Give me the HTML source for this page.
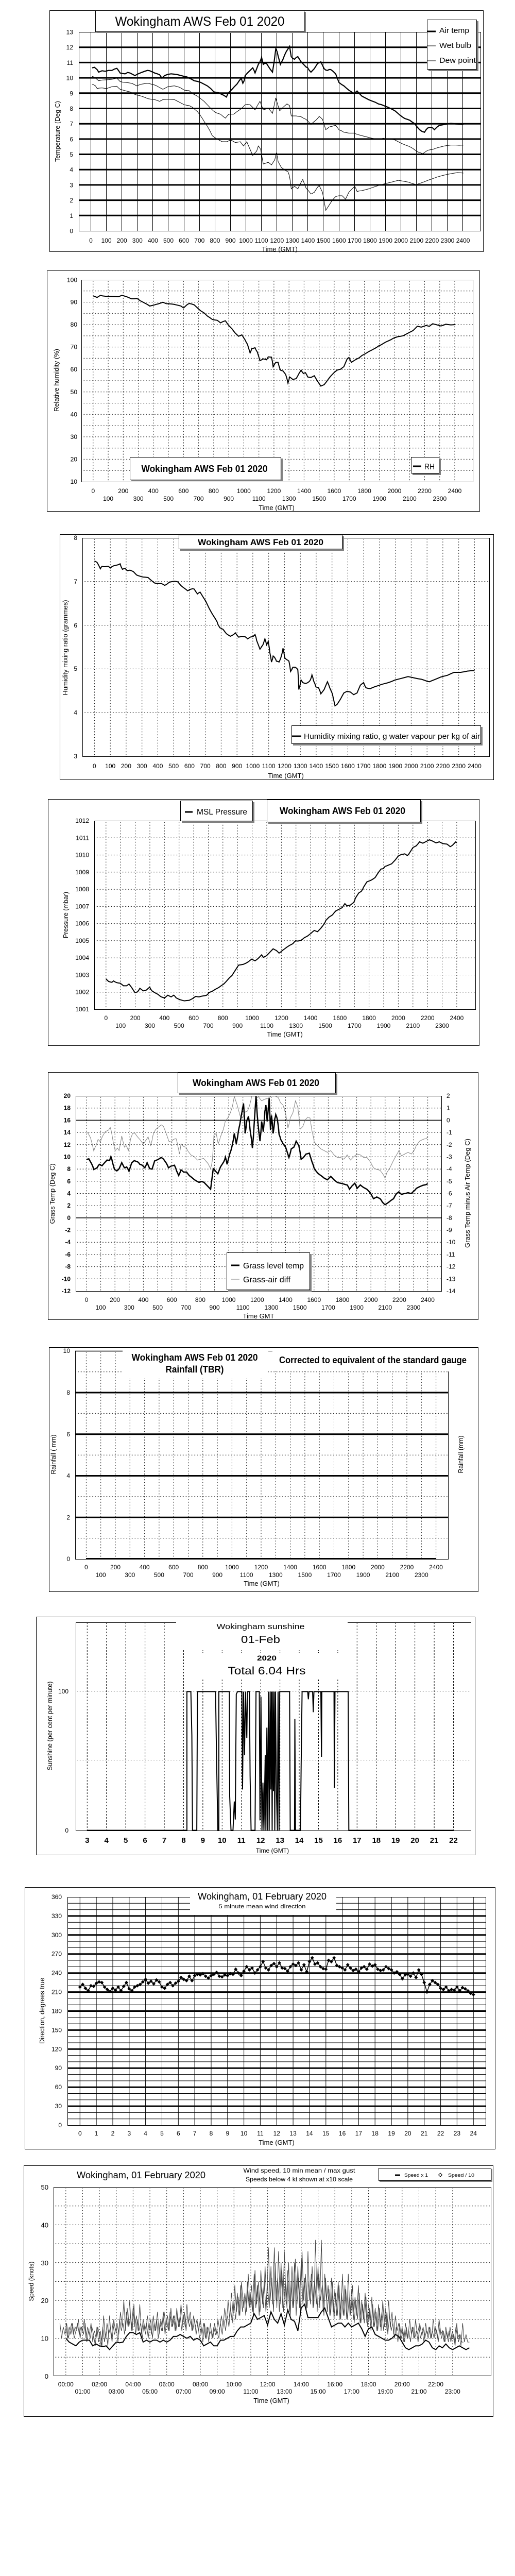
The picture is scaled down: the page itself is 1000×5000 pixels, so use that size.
<!DOCTYPE html>
<html><head><meta charset="utf-8"><title>Wokingham AWS Feb 01 2020</title>
<style>
html,body{margin:0;padding:0;background:#fff;}
svg{display:block;}
svg text{font-family:"Liberation Sans",Arial,sans-serif;fill:#000;}
.tk{font-size:12px;}
.ax{font-size:13px;}
.bt{font-weight:bold;}
</style></head><body>
<svg xmlns="http://www.w3.org/2000/svg" xmlns:xlink="http://www.w3.org/1999/xlink" width="1000" height="5000" viewBox="0 0 1000 5000">
<rect x="0" y="0" width="1000" height="5000" fill="#fff"/>
<defs>
<clipPath id="c5"><rect x="147" y="2127" width="711" height="379"/></clipPath>
<clipPath id="c9"><rect x="104" y="4245" width="850" height="367"/></clipPath>
<marker id="dm" markerUnits="userSpaceOnUse" markerWidth="2" markerHeight="7" viewBox="-1 -3.5 2 7" refX="0" refY="0" overflow="visible"><path d="M0,-2.85L0.66,0L0,2.85L-0.66,0Z" fill="#000"/></marker>
</defs>

<!-- ================= PANEL 1 ================= -->
<g>
<rect x="96.5" y="20.5" width="842" height="468" fill="none" stroke="#000"/>
<path stroke="#000" stroke-width="1" fill="none" d="M176.5 62V448M206.5 62V448M236.5 62V448M266.5 62V448M296.5 62V448M326.5 62V448M357.5 62V448M387.5 62V448M417.5 62V448M447.5 62V448M477.5 62V448M507.5 62V448M537.5 62V448M567.5 62V448M597.5 62V448M627.5 62V448M658.5 62V448M688.5 62V448M718.5 62V448M748.5 62V448M778.5 62V448M808.5 62V448M838.5 62V448M868.5 62V448M898.5 62V448"/>
<path stroke="#000" stroke-width="3" fill="none" d="M153 418.3H934M153 388.6H934M153 358.9H934M153 329.2H934M153 299.5H934M153 269.9H934M153 240.2H934M153 210.5H934M153 180.8H934M153 151.1H934M153 121.4H934M153 91.7H934"/>
<rect x="153.5" y="62.5" width="780" height="386" fill="none" stroke="#000"/>
<g class="tk" text-anchor="end">
<text x="142" y="452.5">0</text><text x="142" y="422.8">1</text><text x="142" y="393.1">2</text><text x="142" y="363.4">3</text><text x="142" y="333.7">4</text><text x="142" y="304">5</text><text x="142" y="274.4">6</text><text x="142" y="244.7">7</text><text x="142" y="215">8</text><text x="142" y="185.3">9</text><text x="142" y="155.6">10</text><text x="142" y="125.9">11</text><text x="142" y="96.2">12</text><text x="142" y="66.5">13</text>
</g>
<g class="tk" text-anchor="middle">
<text x="176.5" y="471">0</text><text x="206.6" y="471">100</text><text x="236.7" y="471">200</text><text x="266.8" y="471">300</text><text x="296.9" y="471">400</text><text x="327" y="471">500</text><text x="357.2" y="471">600</text><text x="387.3" y="471">700</text><text x="417.4" y="471">800</text><text x="447.5" y="471">900</text><text x="477.6" y="471">1000</text><text x="507.7" y="471">1100</text><text x="537.8" y="471">1200</text><text x="567.9" y="471">1300</text><text x="598" y="471">1400</text><text x="628.2" y="471">1500</text><text x="658.3" y="471">1600</text><text x="688.4" y="471">1700</text><text x="718.5" y="471">1800</text><text x="748.6" y="471">1900</text><text x="778.7" y="471">2000</text><text x="808.8" y="471">2100</text><text x="838.9" y="471">2200</text><text x="869" y="471">2300</text><text x="899.1" y="471">2400</text>
</g>
<text class="ax" x="543" y="488" text-anchor="middle">Time (GMT)</text>
<text class="ax" transform="translate(116,255) rotate(-90)" text-anchor="middle" textLength="118" lengthAdjust="spacingAndGlyphs">Temperature (Deg C)</text>
<g transform="scale(0.63898,0.33333)" fill="none" stroke="#000">
<polyline vector-effect="non-scaling-stroke" stroke-width="2.2" points="280,395 287,392 295,405 300,420 310,412 320,415 330,410 340,410 348,402 355,398 360,410 365,425 372,428 380,430 388,422 395,425 402,432 410,440 420,430 430,422 440,415 448,410 455,412 462,418 470,425 478,430 485,435 492,455 500,440 510,433 520,430 530,432 540,435 550,440 560,445 568,448 575,455 583,462 590,470 600,474 610,480 620,490 630,500 640,515 650,535 658,538 665,540 672,548 680,555 688,565 692,548 695,540 700,530 705,520 712,505 720,490 727,470 733,455 738,485 742,470 745,440 752,425 760,410 768,395 772,410 775,425 780,400 785,375 790,360 795,335 800,375 805,368 810,370 815,385 820,400 828,420 833,360 838,285 842,300 845,325 852,375 856,360 860,345 865,320 870,300 875,285 880,270 885,330 890,340 895,345 900,335 905,330 910,345 915,360 920,370 925,380 930,390 935,395 940,410 945,420 950,410 955,400 960,385 965,370 970,365 975,360 980,380 985,400 990,408 995,410 1000,405 1005,405 1012,415 1020,430 1025,455 1030,480 1038,492 1045,500 1052,512 1060,525 1068,535 1075,545 1080,538 1085,530 1092,545 1100,560 1110,570 1120,580 1130,588 1140,595 1150,605 1160,610 1170,618 1180,625 1190,635 1200,645 1208,658 1215,670 1222,680 1230,690 1238,695 1245,700 1252,710 1260,720 1267,738 1275,755 1282,765 1290,770 1295,755 1300,745 1308,742 1315,745 1320,755 1328,740 1335,730 1342,728 1350,725 1360,722 1370,718 1378,720 1385,722 1395,723 1408,725"/>
<polyline vector-effect="non-scaling-stroke" stroke-width="1" points="280,445 285,448 290,455 300,470 310,466 320,465 330,464 340,462 348,458 355,455 360,465 365,475 372,478 380,480 390,482 400,485 408,492 415,500 422,495 430,490 440,487 450,485 460,490 470,495 478,502 485,510 495,520 503,512 510,505 520,502 530,500 538,504 545,508 552,515 560,525 568,527 575,528 580,537 585,545 592,552 600,560 610,575 620,590 630,610 640,630 648,645 655,655 662,660 670,665 678,678 685,688 690,676 695,665 702,665 710,665 715,658 720,650 728,640 735,630 740,620 745,610 752,608 760,610 768,625 775,640 782,615 790,590 795,615 800,640 808,635 815,630 822,645 828,660 833,615 838,570 844,610 850,645 855,635 860,625 866,615 872,605 876,610 880,615 883,650 885,675 892,675 900,675 908,678 915,680 922,688 930,695 938,710 945,725 952,712 960,700 965,690 970,678 975,686 980,695 985,725 990,755 995,748 1000,740 1005,737 1010,735 1015,732 1020,730 1025,742 1030,755 1038,762 1045,770 1052,772 1060,775 1068,775 1075,775 1082,780 1090,785 1100,790 1110,795 1120,800 1130,805 1140,808 1150,810 1158,808 1165,805 1172,808 1180,810 1190,812 1200,815 1210,825 1220,835 1230,843 1240,850 1248,857 1255,865 1262,875 1270,885 1278,890 1285,895 1292,885 1300,875 1308,872 1315,870 1322,865 1330,860 1340,855 1350,850 1360,847 1370,845 1385,845 1395,846 1408,845"/>
<polyline vector-effect="non-scaling-stroke" stroke-width="1" points="280,490 285,494 290,500 295,515 302,513 310,512 318,514 325,515 332,510 340,505 348,503 355,502 360,512 365,520 372,524 380,528 388,532 395,535 402,542 410,550 420,555 430,560 440,567 450,575 460,578 470,580 478,585 485,590 490,585 495,580 502,579 510,578 520,579 530,580 538,588 545,595 552,602 560,610 568,613 575,615 580,620 585,625 592,637 600,650 608,670 615,690 622,712 630,735 638,762 645,790 652,800 660,810 668,818 675,825 682,825 690,825 695,820 700,815 708,822 715,830 722,828 730,825 735,838 740,850 745,838 750,825 755,848 760,870 764,888 768,905 774,892 780,880 785,850 789,860 792,870 796,912 800,955 808,950 815,945 820,952 825,960 830,945 835,930 840,890 843,915 845,940 850,958 855,975 860,982 865,990 870,995 875,1000 878,1015 880,1030 883,1065 885,1100 890,1092 895,1085 900,1092 905,1100 912,1072 920,1045 925,1070 930,1095 938,1112 945,1130 950,1125 955,1120 960,1105 965,1090 970,1080 975,1100 980,1120 985,1172 990,1225 995,1210 1000,1195 1005,1180 1010,1165 1015,1155 1020,1145 1025,1142 1030,1140 1035,1140 1040,1140 1045,1150 1050,1160 1055,1140 1060,1120 1065,1110 1070,1100 1074,1092 1078,1085 1082,1100 1085,1115 1092,1112 1100,1110 1110,1105 1120,1100 1135,1090 1150,1080 1165,1072 1180,1065 1195,1058 1210,1050 1225,1055 1240,1060 1252,1068 1265,1075 1272,1070 1280,1065 1290,1058 1300,1050 1315,1040 1330,1030 1345,1022 1360,1015 1375,1010 1390,1005 1400,1006 1408,1008"/>
</g>
<rect x="188" y="23" width="406" height="41" fill="#808080"/>
<rect x="185.5" y="20.5" width="405" height="41" fill="#fff" stroke="#000"/>
<text x="388" y="50" font-size="25" text-anchor="middle" textLength="329" lengthAdjust="spacingAndGlyphs">Wokingham AWS Feb 01 2020</text>
<rect x="832" y="41" width="97" height="97" fill="#808080"/>
<rect x="829.5" y="38.5" width="96" height="96" fill="#fff" stroke="#000"/>
<path d="M830 61H846" stroke="#000" stroke-width="3"/>
<path d="M830 89H846M830 118H846" stroke="#000" stroke-width="1"/>
<text x="853" y="64" font-size="15" textLength="58" lengthAdjust="spacingAndGlyphs">Air temp</text>
<text x="853" y="93" font-size="15" textLength="62" lengthAdjust="spacingAndGlyphs">Wet bulb</text>
<text x="853" y="122" font-size="15" textLength="71" lengthAdjust="spacingAndGlyphs">Dew point</text>
</g>

<!-- ================= PANEL 2 ================= -->
<g>
<rect x="91.5" y="525.5" width="840" height="467" fill="none" stroke="#000"/>
<path stroke="#000" stroke-width="1" stroke-dasharray="1 2" fill="none" d="M180.8 543V935M210.1 543V935M239.3 543V935M268.6 543V935M297.8 543V935M327.1 543V935M356.4 543V935M385.6 543V935M414.9 543V935M444.1 543V935M473.4 543V935M502.7 543V935M531.9 543V935M561.2 543V935M590.4 543V935M619.7 543V935M648.9 543V935M678.2 543V935M707.5 543V935M736.7 543V935M766 543V935M795.3 543V935M824.5 543V935M853.8 543V935M883 543V935M158 913.2H918M158 891.4H918M158 869.7H918M158 847.9H918M158 826.1H918M158 804.3H918M158 782.5H918M158 760.8H918M158 739H918M158 717.2H918M158 695.4H918M158 673.6H918M158 651.9H918M158 630.1H918M158 608.3H918M158 586.5H918M158 564.7H918"/>
<rect x="158.5" y="543.5" width="760" height="392" fill="none" stroke="#000"/>
<g class="tk" text-anchor="end">
<text x="150" y="547.5">100</text><text x="150" y="590.5">90</text><text x="150" y="634.1">80</text><text x="150" y="677.6">70</text><text x="150" y="721.2">60</text><text x="150" y="764.8">50</text><text x="150" y="808.3">40</text><text x="150" y="851.9">30</text><text x="150" y="895.4">20</text><text x="150" y="939">10</text>
</g>
<g class="tk" text-anchor="middle">
<text x="180.8" y="957">0</text><text x="239.3" y="957">200</text><text x="297.8" y="957">400</text><text x="356.4" y="957">600</text><text x="414.9" y="957">800</text><text x="473.4" y="957">1000</text><text x="531.9" y="957">1200</text><text x="590.4" y="957">1400</text><text x="648.9" y="957">1600</text><text x="707.5" y="957">1800</text><text x="766" y="957">2000</text><text x="824.5" y="957">2200</text><text x="883" y="957">2400</text>
<text x="210.1" y="972">100</text><text x="268.6" y="972">300</text><text x="327.1" y="972">500</text><text x="385.6" y="972">700</text><text x="444.1" y="972">900</text><text x="502.7" y="972">1100</text><text x="561.2" y="972">1300</text><text x="619.7" y="972">1500</text><text x="678.2" y="972">1700</text><text x="736.7" y="972">1900</text><text x="795.3" y="972">2100</text><text x="853.8" y="972">2300</text>
</g>
<text class="ax" x="537" y="990" text-anchor="middle">Time (GMT)</text>
<text class="ax" transform="translate(114,738) rotate(-90)" text-anchor="middle" textLength="122" lengthAdjust="spacingAndGlyphs">Relative humidity (%)</text>
<g transform="translate(0,490) scale(0.63898,0.33333)" fill="none" stroke="#000">
<polyline vector-effect="non-scaling-stroke" stroke-width="2" points="283,253 289,257 295,262 300,256 305,250 312,253 320,255 330,256 340,256 350,257 360,258 365,254 370,250 375,252 380,255 385,258 390,262 395,266 400,270 408,270 415,268 420,272 425,280 432,287 440,295 448,303 455,312 462,309 470,305 475,302 480,300 488,295 495,290 500,294 505,298 512,299 520,300 528,302 535,305 542,308 550,312 554,318 558,323 563,314 568,305 572,300 575,297 582,300 590,305 595,314 600,323 605,332 610,340 615,346 620,352 625,361 630,370 638,380 645,390 652,393 660,395 665,402 670,410 674,406 678,402 685,398 690,412 695,425 700,435 705,445 710,458 715,470 720,479 725,488 730,484 735,480 740,495 745,510 748,522 752,535 756,560 760,585 763,572 765,560 770,558 775,555 778,568 782,580 786,605 790,630 795,625 800,620 805,622 810,625 813,616 815,608 820,609 825,610 828,638 830,665 834,652 838,640 842,640 845,640 848,662 852,685 856,688 860,690 864,700 868,710 872,735 875,760 878,742 880,725 885,732 890,740 895,737 900,735 905,718 910,700 913,692 915,685 918,695 922,705 925,702 928,700 932,712 935,725 940,727 945,728 950,723 955,718 960,734 965,750 970,764 975,778 980,774 985,770 990,758 995,745 1000,732 1005,720 1010,710 1015,700 1020,692 1025,685 1030,682 1035,680 1040,672 1045,665 1050,642 1055,620 1058,615 1060,612 1064,626 1068,640 1074,632 1080,625 1085,620 1090,615 1095,608 1100,600 1105,595 1110,590 1115,584 1120,578 1125,573 1130,568 1135,563 1140,558 1145,552 1150,545 1158,538 1165,530 1172,522 1180,515 1188,508 1195,500 1202,495 1210,490 1218,488 1225,485 1232,478 1240,470 1248,462 1255,455 1262,442 1268,430 1274,432 1280,435 1288,430 1295,425 1300,428 1305,430 1310,422 1315,415 1320,418 1325,420 1332,424 1340,428 1348,423 1355,418 1362,420 1370,422 1376,421 1382,420"/>
</g>
<rect x="255" y="890" width="294" height="44" fill="#808080"/>
<rect x="252.5" y="887.5" width="293" height="44" fill="#fff" stroke="#000"/>
<text x="397" y="916" font-size="18" class="bt" text-anchor="middle" textLength="245" lengthAdjust="spacingAndGlyphs">Wokingham AWS Feb 01 2020</text>
<rect x="801" y="890" width="55" height="32" fill="#808080"/>
<rect x="798.5" y="887.5" width="54" height="31" fill="#fff" stroke="#000"/>
<path d="M802 905H818" stroke="#000" stroke-width="3"/>
<text x="824" y="911" font-size="16" textLength="20" lengthAdjust="spacingAndGlyphs">RH</text>
</g>

<!-- ================= PANEL 3 ================= -->
<g>
<rect x="116.5" y="1037.5" width="842" height="476" fill="none" stroke="#000"/>
<path stroke="#000" stroke-width="1" stroke-dasharray="1 2" fill="none" d="M183.4 1044V1468M214.2 1044V1468M244.9 1044V1468M275.7 1044V1468M306.4 1044V1468M337.2 1044V1468M367.9 1044V1468M398.7 1044V1468M429.4 1044V1468M460.2 1044V1468M490.9 1044V1468M521.7 1044V1468M552.4 1044V1468M583.2 1044V1468M613.9 1044V1468M644.7 1044V1468M675.4 1044V1468M706.2 1044V1468M736.9 1044V1468M767.7 1044V1468M798.4 1044V1468M829.2 1044V1468M859.9 1044V1468M890.7 1044V1468M921.4 1044V1468M160 1383.2H950M160 1298.4H950M160 1213.6H950M160 1128.8H950"/>
<rect x="160.5" y="1044.5" width="790" height="424" fill="none" stroke="#000"/>
<g class="tk" text-anchor="end">
<text x="150" y="1472">3</text><text x="150" y="1387">4</text><text x="150" y="1302">5</text><text x="150" y="1218">6</text><text x="150" y="1133">7</text><text x="150" y="1048">8</text>
</g>
<g class="tk" text-anchor="middle">
<text x="183.4" y="1491">0</text><text x="214.2" y="1491">100</text><text x="244.9" y="1491">200</text><text x="275.7" y="1491">300</text><text x="306.4" y="1491">400</text><text x="337.2" y="1491">500</text><text x="367.9" y="1491">600</text><text x="398.7" y="1491">700</text><text x="429.4" y="1491">800</text><text x="460.2" y="1491">900</text><text x="490.9" y="1491">1000</text><text x="521.7" y="1491">1100</text><text x="552.4" y="1491">1200</text><text x="583.2" y="1491">1300</text><text x="613.9" y="1491">1400</text><text x="644.7" y="1491">1500</text><text x="675.4" y="1491">1600</text><text x="706.2" y="1491">1700</text><text x="736.9" y="1491">1800</text><text x="767.7" y="1491">1900</text><text x="798.4" y="1491">2000</text><text x="829.2" y="1491">2100</text><text x="859.9" y="1491">2200</text><text x="890.7" y="1491">2300</text><text x="921.4" y="1491">2400</text>
</g>
<text class="ax" x="555" y="1510" text-anchor="middle">Time (GMT)</text>
<text class="ax" transform="translate(131,1257) rotate(-90)" text-anchor="middle" textLength="185" lengthAdjust="spacingAndGlyphs">Humidity mixing ratio (grammes)</text>
<g transform="translate(0,1010) scale(0.63898,0.33333)" fill="none" stroke="#000">
<polyline vector-effect="non-scaling-stroke" stroke-width="2" points="287,237 291,240 295,245 300,262 305,282 308,272 310,268 315,270 320,270 325,268 330,268 333,274 335,278 340,270 345,265 352,262 360,258 365,253 368,270 372,285 376,282 380,280 384,288 388,293 392,291 395,290 400,294 405,298 410,308 415,318 420,322 425,325 430,328 435,330 442,331 450,333 455,342 460,350 465,358 470,365 475,367 480,368 485,368 490,368 495,372 500,378 505,375 510,367 515,360 522,357 530,355 535,356 540,358 545,369 550,380 555,388 560,395 565,402 570,410 574,406 578,402 582,400 585,398 590,400 595,415 600,428 604,422 608,418 612,430 615,440 620,455 625,470 630,490 635,510 640,528 645,545 650,560 655,575 660,592 662,605 665,615 668,625 673,630 678,635 683,648 688,660 694,668 700,675 705,670 710,665 715,655 720,668 725,680 730,678 735,675 740,677 745,678 750,685 752,690 756,686 760,680 765,678 770,675 775,665 778,682 780,700 785,725 790,750 793,742 795,735 798,728 800,720 805,690 808,708 810,725 813,715 815,705 818,738 820,770 823,800 825,825 828,808 830,790 833,795 835,800 838,810 840,820 845,822 848,825 852,808 855,790 858,768 860,745 863,772 865,800 868,805 870,810 875,815 878,820 881,850 883,880 887,868 890,855 894,855 897,855 902,862 905,870 907,928 908,985 912,958 915,930 918,938 920,945 925,948 928,950 932,948 935,945 940,938 943,930 946,915 948,900 951,918 953,935 957,952 960,970 965,973 968,975 972,992 975,1010 980,998 985,985 990,962 995,940 999,958 1002,975 1006,992 1010,1010 1014,1045 1018,1080 1022,1075 1025,1070 1030,1055 1035,1040 1040,1022 1045,1005 1050,1000 1055,995 1060,998 1065,1000 1070,1008 1075,1015 1080,1010 1085,1005 1090,982 1095,960 1100,952 1105,945 1108,960 1112,975 1118,978 1125,980 1132,974 1140,968 1150,962 1160,955 1170,950 1180,945 1190,938 1200,930 1210,925 1220,920 1230,915 1240,910 1250,914 1260,918 1270,922 1280,925 1288,930 1295,935 1300,938 1305,940 1312,934 1320,928 1330,920 1340,912 1350,907 1360,902 1370,893 1380,885 1390,885 1400,885 1410,882 1420,878 1430,876 1442,875"/>
</g>
<rect x="350" y="1041" width="318" height="28" fill="#808080"/>
<rect x="347.5" y="1038.5" width="317" height="27" fill="#fff" stroke="#000"/>
<text x="506" y="1058" font-size="17" class="bt" text-anchor="middle" textLength="244" lengthAdjust="spacingAndGlyphs">Wokingham AWS Feb 01 2020</text>
<rect x="569" y="1411" width="368" height="36" fill="#808080"/>
<rect x="566.5" y="1408.5" width="367" height="35" fill="#fff" stroke="#000"/>
<path d="M567 1429H585" stroke="#000" stroke-width="3"/>
<text x="590" y="1434" font-size="15" textLength="342" lengthAdjust="spacingAndGlyphs">Humidity mixing ratio, g water vapour per kg of air</text>
</g>

<!-- ================= PANEL 4 ================= -->
<g>
<rect x="93.5" y="1551.5" width="837" height="478" fill="none" stroke="#000"/>
<path stroke="#000" stroke-width="1" stroke-dasharray="1 2" fill="none" d="M205.8 1593V1959M234.2 1593V1959M262.6 1593V1959M291 1593V1959M319.3 1593V1959M347.7 1593V1959M376.1 1593V1959M404.5 1593V1959M432.8 1593V1959M461.2 1593V1959M489.6 1593V1959M518 1593V1959M546.4 1593V1959M574.7 1593V1959M603.1 1593V1959M631.5 1593V1959M659.9 1593V1959M688.3 1593V1959M716.6 1593V1959M745 1593V1959M773.4 1593V1959M801.8 1593V1959M830.2 1593V1959M858.5 1593V1959M886.9 1593V1959M183 1925.7H923M183 1892.5H923M183 1859.2H923M183 1825.9H923M183 1792.7H923M183 1759.4H923M183 1726.1H923M183 1692.8H923M183 1659.6H923M183 1626.3H923"/>
<rect x="183.5" y="1593.5" width="740" height="366" fill="none" stroke="#000"/>
<g class="tk" text-anchor="end">
<text x="173" y="1597">1012</text><text x="173" y="1630.3">1011</text><text x="173" y="1663.6">1010</text><text x="173" y="1696.8">1009</text><text x="173" y="1730.1">1008</text><text x="173" y="1763.4">1007</text><text x="173" y="1796.7">1006</text><text x="173" y="1829.9">1005</text><text x="173" y="1863.2">1004</text><text x="173" y="1896.5">1003</text><text x="173" y="1929.7">1002</text><text x="173" y="1963">1001</text>
</g>
<g class="tk" text-anchor="middle">
<text x="205.8" y="1980">0</text><text x="262.6" y="1980">200</text><text x="319.3" y="1980">400</text><text x="376.1" y="1980">600</text><text x="432.8" y="1980">800</text><text x="489.6" y="1980">1000</text><text x="546.4" y="1980">1200</text><text x="603.1" y="1980">1400</text><text x="659.9" y="1980">1600</text><text x="716.6" y="1980">1800</text><text x="773.4" y="1980">2000</text><text x="830.2" y="1980">2200</text><text x="886.9" y="1980">2400</text>
<text x="234.2" y="1995">100</text><text x="291" y="1995">300</text><text x="347.7" y="1995">500</text><text x="404.5" y="1995">700</text><text x="461.2" y="1995">900</text><text x="518" y="1995">1100</text><text x="574.7" y="1995">1300</text><text x="631.5" y="1995">1500</text><text x="688.3" y="1995">1700</text><text x="745" y="1995">1900</text><text x="801.8" y="1995">2100</text><text x="858.5" y="1995">2300</text>
</g>
<text class="ax" x="553" y="2012" text-anchor="middle">Time (GMT)</text>
<text class="ax" transform="translate(132,1776) rotate(-90)" text-anchor="middle" textLength="90" lengthAdjust="spacingAndGlyphs">Pressure (mbar)</text>
<g transform="translate(0,1530) scale(0.63898,0.33333)" fill="none" stroke="#000">
<polyline vector-effect="non-scaling-stroke" stroke-width="2" points="322,1110 326,1118 330,1125 335,1128 340,1130 345,1122 350,1128 355,1132 360,1134 365,1135 370,1142 375,1150 380,1150 385,1150 392,1140 396,1150 400,1160 405,1175 410,1190 414,1188 418,1185 422,1175 425,1165 430,1172 435,1180 440,1178 445,1175 450,1166 455,1158 458,1170 462,1180 466,1185 470,1190 475,1195 480,1200 485,1208 490,1215 495,1218 500,1222 505,1213 510,1205 515,1210 520,1215 524,1210 528,1205 532,1212 535,1220 540,1225 545,1230 552,1234 560,1238 568,1236 575,1235 580,1230 585,1225 590,1218 595,1212 600,1214 605,1215 610,1212 615,1210 622,1208 628,1205 632,1198 635,1190 640,1186 645,1182 650,1176 655,1170 660,1165 665,1160 672,1150 680,1140 686,1128 692,1115 698,1102 705,1090 710,1075 715,1060 720,1045 725,1030 732,1028 740,1025 748,1018 755,1010 760,1002 765,995 770,1000 775,1005 780,998 785,990 790,980 795,970 798,978 800,985 805,980 810,975 815,965 820,955 825,945 830,935 835,940 840,945 844,952 848,960 852,955 855,950 860,942 865,935 872,925 880,915 885,910 890,905 894,896 898,888 902,889 905,890 910,888 915,885 920,878 925,870 930,865 935,860 940,852 945,845 950,836 955,828 960,832 965,835 970,825 975,815 980,803 985,790 988,780 990,770 995,760 1000,750 1005,744 1010,738 1015,726 1020,715 1025,710 1030,705 1035,700 1040,695 1044,683 1048,672 1052,680 1055,685 1060,682 1065,680 1070,672 1075,665 1078,652 1080,640 1085,625 1090,610 1094,605 1098,600 1102,588 1105,575 1110,560 1115,545 1122,540 1128,535 1134,528 1140,520 1145,505 1150,490 1154,480 1158,470 1162,469 1165,468 1168,461 1170,455 1175,452 1180,448 1185,444 1190,440 1195,430 1200,420 1205,408 1210,395 1215,390 1220,385 1225,384 1230,382 1234,387 1238,392 1242,384 1245,375 1250,360 1255,345 1260,340 1265,335 1270,324 1275,312 1280,316 1285,320 1290,315 1295,310 1300,305 1305,300 1310,304 1315,308 1320,313 1325,318 1330,315 1335,312 1340,317 1345,322 1352,324 1358,325 1363,332 1368,340 1372,336 1375,332 1380,322 1385,312 1388,318"/>
</g>
<rect x="353" y="1557" width="141" height="40" fill="#808080"/>
<rect x="350.5" y="1554.5" width="140" height="39" fill="#fff" stroke="#000"/>
<path d="M359 1576H374" stroke="#000" stroke-width="3"/>
<text x="382" y="1581" font-size="16" textLength="98" lengthAdjust="spacingAndGlyphs">MSL Pressure</text>
<rect x="521" y="1555" width="299" height="44" fill="#808080"/>
<rect x="518.5" y="1552.5" width="298" height="43" fill="#fff" stroke="#000"/>
<text x="665" y="1580" font-size="18" class="bt" text-anchor="middle" textLength="244" lengthAdjust="spacingAndGlyphs">Wokingham AWS Feb 01 2020</text>
</g>

<!-- ================= PANEL 5 ================= -->
<g>
<rect x="93.5" y="2081.5" width="835" height="480" fill="none" stroke="#000"/>
<path stroke="#000" stroke-width="1" stroke-dasharray="1 2" fill="none" d="M168 2127V2506M195.6 2127V2506M223.2 2127V2506M250.8 2127V2506M278.4 2127V2506M306.1 2127V2506M333.7 2127V2506M361.3 2127V2506M388.9 2127V2506M416.5 2127V2506M444.1 2127V2506M471.7 2127V2506M499.3 2127V2506M526.9 2127V2506M554.5 2127V2506M582.2 2127V2506M609.8 2127V2506M637.4 2127V2506M665 2127V2506M692.6 2127V2506M720.2 2127V2506M747.8 2127V2506M775.4 2127V2506M803 2127V2506M830.6 2127V2506M147 2482.3H858M147 2458.6H858M147 2434.9H858M147 2411.2H858M147 2387.6H858M147 2340.2H858M147 2316.5H858M147 2292.8H858M147 2269.1H858M147 2245.4H858M147 2221.8H858M147 2198.1H858M147 2150.7H858"/>
<path stroke="#000" stroke-width="1.5" fill="none" d="M147 2363.9H858M147 2174.4H858"/>
<rect x="147.5" y="2127.5" width="710" height="379" fill="none" stroke="#000"/>
<g class="tk bt" text-anchor="end">
<text x="137" y="2131">20</text><text x="137" y="2154.7">18</text><text x="137" y="2178.4">16</text><text x="137" y="2202.1">14</text><text x="137" y="2225.8">12</text><text x="137" y="2249.4">10</text><text x="137" y="2273.1">8</text><text x="137" y="2296.8">6</text><text x="137" y="2320.5">4</text><text x="137" y="2344.2">2</text><text x="137" y="2367.9">0</text><text x="137" y="2391.6">-2</text><text x="137" y="2415.2">-4</text><text x="137" y="2438.9">-6</text><text x="137" y="2462.6">-8</text><text x="137" y="2486.3">-10</text><text x="137" y="2510">-12</text>
</g>
<g class="tk" text-anchor="start">
<text x="867" y="2131">2</text><text x="867" y="2154.7">1</text><text x="867" y="2178.4">0</text><text x="867" y="2202.1">-1</text><text x="867" y="2225.8">-2</text><text x="867" y="2249.4">-3</text><text x="867" y="2273.1">-4</text><text x="867" y="2296.8">-5</text><text x="867" y="2320.5">-6</text><text x="867" y="2344.2">-7</text><text x="867" y="2367.9">-8</text><text x="867" y="2391.6">-9</text><text x="867" y="2415.2">-10</text><text x="867" y="2438.9">-11</text><text x="867" y="2462.6">-12</text><text x="867" y="2486.3">-13</text><text x="867" y="2510">-14</text>
</g>
<g class="tk" text-anchor="middle">
<text x="168" y="2527">0</text><text x="223.2" y="2527">200</text><text x="278.4" y="2527">400</text><text x="333.7" y="2527">600</text><text x="388.9" y="2527">800</text><text x="444.1" y="2527">1000</text><text x="499.3" y="2527">1200</text><text x="554.5" y="2527">1400</text><text x="609.8" y="2527">1600</text><text x="665" y="2527">1800</text><text x="720.2" y="2527">2000</text><text x="775.4" y="2527">2200</text><text x="830.6" y="2527">2400</text>
<text x="195.6" y="2542">100</text><text x="250.8" y="2542">300</text><text x="306.1" y="2542">500</text><text x="361.3" y="2542">700</text><text x="416.5" y="2542">900</text><text x="471.7" y="2542">1100</text><text x="526.9" y="2542">1300</text><text x="582.2" y="2542">1500</text><text x="637.4" y="2542">1700</text><text x="692.6" y="2542">1900</text><text x="747.8" y="2542">2100</text><text x="803" y="2542">2300</text>
</g>
<text class="ax" x="502" y="2559" text-anchor="middle">Time GMT</text>
<text class="ax" transform="translate(106,2317) rotate(-90)" text-anchor="middle" textLength="117" lengthAdjust="spacingAndGlyphs">Grass Temp (Deg C)</text>
<text class="ax" transform="translate(912,2316) rotate(-90)" text-anchor="middle" textLength="212" lengthAdjust="spacingAndGlyphs">Grass Temp minus Air Temp (Deg C)</text>
<g clip-path="url(#c5)">
<g transform="translate(0,2060) scale(0.63898,0.33333)" fill="none">
<polyline vector-effect="non-scaling-stroke" stroke="#808080" stroke-width="1" points="263,412 268,420 275,445 280,480 285,522 288,505 292,490 298,455 302,462 305,470 308,452 312,435 316,422 320,410 325,405 330,400 335,385 338,405 340,425 345,480 350,520 354,512 357,505 362,520 366,478 370,435 374,468 378,500 383,490 387,505 390,520 394,485 397,450 403,420 407,419 410,418 414,430 418,440 425,455 430,468 435,480 440,470 443,460 447,450 450,440 454,465 458,490 462,460 465,430 468,415 472,400 476,392 480,385 485,378 490,370 494,375 497,380 501,400 505,420 509,442 513,465 517,468 520,470 524,462 527,455 531,452 535,450 538,470 540,490 543,515 545,540 548,510 550,480 554,488 557,495 561,498 565,500 568,512 572,525 576,535 580,545 585,550 590,555 595,565 600,575 605,572 610,570 614,568 618,565 622,572 625,580 629,588 632,595 636,610 640,625 643,602 645,580 648,505 650,430 654,425 657,420 660,450 663,480 667,460 670,440 674,420 678,400 682,372 685,345 689,338 692,330 696,315 700,300 703,282 706,265 709,235 712,205 716,228 720,250 725,285 730,320 734,325 737,330 741,312 745,295 749,292 752,290 755,275 758,260 762,230 765,202 770,180 775,202 780,190 785,205 790,218 795,230 800,225 805,220 810,218 815,215 820,208 825,202 830,190 835,202 840,206 845,210 849,225 852,240 856,248 860,255 864,280 868,305 872,348 875,390 879,360 882,330 886,315 890,300 894,265 898,230 902,250 905,270 909,332 912,395 916,388 920,380 924,360 928,340 932,332 935,325 939,328 942,330 945,368 948,405 952,438 955,470 960,480 965,490 970,500 975,510 980,515 985,520 990,525 995,530 1000,525 1005,520 1010,532 1015,545 1020,552 1025,560 1030,560 1035,560 1040,565 1045,570 1050,558 1055,545 1060,560 1065,575 1070,565 1075,555 1080,548 1085,540 1090,542 1095,545 1100,552 1105,560 1110,560 1115,560 1120,572 1125,585 1130,602 1135,620 1140,625 1145,630 1150,632 1155,635 1159,645 1163,655 1167,668 1170,680 1173,665 1175,650 1180,635 1185,620 1190,600 1195,580 1200,562 1205,545 1209,532 1212,520 1216,535 1220,550 1225,545 1230,540 1235,535 1240,530 1245,535 1250,540 1254,530 1258,520 1262,505 1265,490 1270,478 1275,465 1280,460 1285,455 1290,452 1295,450 1300,440"/>
<polyline vector-effect="non-scaling-stroke" stroke="#000" stroke-width="2.5" points="263,572 266,570 270,568 274,582 278,595 282,612 285,630 290,625 295,620 298,610 302,600 306,604 310,608 314,599 318,590 322,582 325,575 329,576 333,578 335,566 337,555 340,572 342,590 345,610 348,630 352,634 355,638 359,632 362,625 366,608 370,590 374,605 378,620 382,618 385,615 389,628 392,640 396,616 400,592 404,585 408,578 413,582 418,585 422,592 425,600 429,602 432,605 436,612 440,620 444,605 447,590 451,608 455,625 458,626 462,628 466,604 470,580 475,576 480,572 485,566 490,560 494,565 497,570 501,581 505,592 509,606 512,620 516,615 520,610 525,608 530,605 534,622 537,640 540,652 543,665 547,648 550,632 554,638 558,645 562,645 567,645 571,655 575,665 580,672 585,680 590,688 595,695 600,700 605,705 609,702 612,700 616,702 620,705 625,715 630,725 635,735 640,745 644,685 648,625 652,632 655,640 659,648 662,655 666,635 670,615 675,600 680,585 683,572 685,558 688,579 690,600 694,570 698,540 702,518 705,495 709,458 712,420 715,450 718,480 722,440 725,400 729,365 732,330 736,288 740,245 743,332 745,420 748,382 750,345 753,332 755,320 758,360 760,400 764,452 767,505 770,440 772,375 775,288 778,202 780,261 782,320 784,360 786,400 788,432 790,465 793,408 795,350 798,380 800,410 803,350 805,290 807,272 808,255 810,302 812,350 815,282 818,215 820,308 822,400 824,358 825,315 828,368 830,420 833,378 835,335 837,322 838,310 841,325 843,340 846,382 848,425 851,440 853,455 857,468 860,480 864,490 868,500 873,530 878,560 882,535 885,510 889,505 893,500 897,482 900,465 904,478 908,490 912,530 915,570 919,565 922,560 926,550 930,540 935,538 940,535 944,560 948,585 952,605 955,625 960,638 965,650 970,658 975,665 980,672 985,680 990,685 995,690 1000,680 1005,670 1010,680 1015,690 1020,698 1025,705 1030,708 1035,710 1040,712 1045,715 1050,718 1055,720 1059,732 1062,745 1066,735 1070,725 1074,718 1078,710 1082,725 1085,740 1090,730 1095,720 1100,728 1105,735 1110,740 1115,745 1120,755 1125,765 1130,782 1135,800 1140,795 1145,790 1150,795 1155,800 1159,810 1162,820 1166,828 1170,835 1174,830 1178,825 1183,818 1188,810 1192,805 1196,800 1200,785 1205,770 1209,765 1212,760 1216,768 1220,775 1225,772 1230,770 1235,768 1240,765 1245,768 1250,770 1254,762 1258,755 1262,748 1265,740 1270,735 1275,730 1280,726 1285,722 1290,720 1295,718 1300,712"/>
</g>
</g>
<rect x="348" y="2085" width="307" height="40" fill="#808080"/>
<rect x="345.5" y="2082.5" width="306" height="39" fill="#fff" stroke="#000"/>
<text x="497" y="2108" font-size="18" class="bt" text-anchor="middle" textLength="246" lengthAdjust="spacingAndGlyphs">Wokingham AWS Feb 01 2020</text>
<rect x="443" y="2434" width="162" height="73" fill="#808080"/>
<rect x="440.5" y="2431.5" width="161" height="72" fill="#fff" stroke="#000"/>
<path d="M449 2456H465" stroke="#000" stroke-width="3"/>
<path d="M449 2483H465" stroke="#808080" stroke-width="1"/>
<text x="472" y="2462" font-size="16" textLength="118" lengthAdjust="spacingAndGlyphs">Grass level temp</text>
<text x="472" y="2489" font-size="16" textLength="92" lengthAdjust="spacingAndGlyphs">Grass-air diff</text>
</g>

<!-- ================= PANEL 6 ================= -->
<g>
<rect x="95.5" y="2615.5" width="833" height="474" fill="none" stroke="#000"/>
<path stroke="#000" stroke-width="1" stroke-dasharray="1 2" fill="none" d="M167.4 2622V3026M195.7 2622V3026M224 2622V3026M252.3 2676V3026M280.6 2676V3026M308.9 2676V3026M337.2 2676V3026M365.5 2676V3026M393.8 2676V3026M422.1 2676V3026M450.4 2676V3026M478.7 2676V3026M507 2676V3026M535.3 2662V3026M563.6 2662V3026M591.9 2662V3026M620.2 2662V3026M648.5 2662V3026M676.8 2662V3026M705.1 2662V3026M733.4 2662V3026M761.7 2662V3026M790 2662V3026M818.3 2662V3026M846.6 2662V3026M146 2985.6H870M146 2904.9H870M146 2824.2H870M146 2743.4H870M146 2662.7H238M521 2662.7H870"/>
<path stroke="#000" stroke-width="3" fill="none" d="M146 2945.3H870M146 2864.5H870M146 2783.8H870M146 2703H870"/>
<path stroke="#000" stroke-width="1" fill="none" d="M146.5 2622V3026.5H870.5V2662M146 2622.5H238M521 2622.5H529"/>
<path stroke="#000" stroke-width="1.5" fill="none" d="M146 2622.5H238"/>
<path stroke="#000" stroke-width="3" fill="none" d="M167 3025.5H847"/>
<g class="tk" text-anchor="end">
<text x="136" y="2626">10</text><text x="136" y="2707">8</text><text x="136" y="2787.8">6</text><text x="136" y="2868.5">4</text><text x="136" y="2949.3">2</text><text x="136" y="3030">0</text>
</g>
<g class="tk" text-anchor="middle">
<text x="167.4" y="3046">0</text><text x="224" y="3046">200</text><text x="280.6" y="3046">400</text><text x="337.2" y="3046">600</text><text x="393.8" y="3046">800</text><text x="450.4" y="3046">1000</text><text x="507" y="3046">1200</text><text x="563.6" y="3046">1400</text><text x="620.2" y="3046">1600</text><text x="676.8" y="3046">1800</text><text x="733.4" y="3046">2000</text><text x="790" y="3046">2200</text><text x="846.6" y="3046">2400</text>
<text x="195.7" y="3061">100</text><text x="252.3" y="3061">300</text><text x="308.9" y="3061">500</text><text x="365.5" y="3061">700</text><text x="422.1" y="3061">900</text><text x="478.7" y="3061">1100</text><text x="535.3" y="3061">1300</text><text x="591.9" y="3061">1500</text><text x="648.5" y="3061">1700</text><text x="705.1" y="3061">1900</text><text x="761.7" y="3061">2100</text><text x="818.3" y="3061">2300</text>
</g>
<text class="ax" x="508" y="3078" text-anchor="middle">Time (GMT)</text>
<text class="ax" transform="translate(108,2823) rotate(-90)" text-anchor="middle" textLength="77" lengthAdjust="spacingAndGlyphs">Rainfall ( mm)</text>
<text class="ax" transform="translate(899,2823) rotate(-90)" text-anchor="middle" textLength="73" lengthAdjust="spacingAndGlyphs">Rainfall (mm)</text>
<text x="378" y="2641" font-size="18" class="bt" text-anchor="middle" textLength="245" lengthAdjust="spacingAndGlyphs">Wokingham AWS Feb 01 2020</text>
<text x="378" y="2664" font-size="18" class="bt" text-anchor="middle" textLength="113" lengthAdjust="spacingAndGlyphs">Rainfall (TBR)</text>
<text x="542" y="2646" font-size="18" class="bt" textLength="364" lengthAdjust="spacingAndGlyphs">Corrected to equivalent of the standard gauge</text>
</g>

<!-- ================= PANEL 7 ================= -->
<g>
<rect x="70.5" y="3138.5" width="852" height="462" fill="none" stroke="#000"/>
<path stroke="#999" stroke-width="1" stroke-dasharray="1 2" fill="none" d="M147 3283.3H915M147 3416.7H915"/>
<path stroke="#000" stroke-width="1" stroke-dasharray="3 3" fill="none" d="M169.3 3149V3553M206.7 3149V3553M244.2 3149V3553M281.6 3149V3553M319 3149V3553M356.5 3203V3553M393.9 3260V3553M431.3 3260V3553M468.7 3260V3553M506.2 3260V3553M543.6 3260V3553M581 3260V3553M618.5 3260V3553M655.9 3260V3553M693.3 3149V3553M730.8 3149V3553M768.2 3149V3553M805.6 3149V3553M843.1 3149V3553M880.5 3149V3553"/>
<path stroke="#000" stroke-width="1" stroke-dasharray="1 3" fill="none" d="M393.9 3203V3208M431.3 3203V3208M468.7 3203V3208M506.2 3203V3208M543.6 3203V3208M581 3203V3208M618.5 3203V3208M655.9 3203V3208"/>
<path stroke="#000" stroke-width="1" fill="none" d="M147.5 3149V3553.5H915M147 3149.5H342M675 3149.5H915"/>
<g transform="translate(0,3120) scale(0.63898,0.33333)" fill="none" stroke="#000">
<polyline vector-effect="non-scaling-stroke" stroke-width="2" points="265,1298 568,1298 568,490 580,490 583,745 585,1298 598,1298 600,490 655,490 658,870 662,1298 665,1298 665,490 697,490 698,1100 702,1298 708,1298 712,1130 715,1235 718,505 722,490 735,490 737,1060 740,490 743,860 746,490 750,760 752,490 758,490 760,980 763,1298 775,1298 778,490 788,490 790,1240 793,520 796,1298 799,1020 802,1298 806,860 808,1298 811,700 813,1298 816,490 818,1298 821,490 823,1060 825,490 827,1298 829,490 831,1070 833,490 835,1298 837,490 840,1070 843,1298 845,490 848,1298 850,490 880,490 882,1298 895,1298 896,650 898,1298 913,1298 915,940 918,490 935,490 937,535 939,490 950,490 952,610 954,490 975,490 977,870 978,490 1015,490 1016,1050 1018,490 1058,490 1060,1298 1378,1298"/>
</g>
<g class="tk" text-anchor="end">
<text x="133" y="3287">100</text><text x="133" y="3557">0</text>
</g>
<text class="ax" transform="translate(101,3350) rotate(-90)" text-anchor="middle" textLength="173" lengthAdjust="spacingAndGlyphs">Sunshine (per cent per minute)</text>
<g font-size="15" class="bt" text-anchor="middle">
<text x="169.3" y="3577">3</text><text x="206.7" y="3577">4</text><text x="244.2" y="3577">5</text><text x="281.6" y="3577">6</text><text x="319" y="3577">7</text><text x="356.5" y="3577">8</text><text x="393.9" y="3577">9</text><text x="431.3" y="3577">10</text><text x="468.7" y="3577">11</text><text x="506.2" y="3577">12</text><text x="543.6" y="3577">13</text><text x="581" y="3577">14</text><text x="618.5" y="3577">15</text><text x="655.9" y="3577">16</text><text x="693.3" y="3577">17</text><text x="730.8" y="3577">18</text><text x="768.2" y="3577">19</text><text x="805.6" y="3577">20</text><text x="843.1" y="3577">21</text><text x="880.5" y="3577">22</text>
</g>
<text x="529" y="3596" font-size="12" text-anchor="middle">Time (GMT)</text>
<text x="506" y="3162" font-size="15" text-anchor="middle" textLength="171" lengthAdjust="spacingAndGlyphs">Wokingham sunshine</text>
<text x="506" y="3189" font-size="20" text-anchor="middle" textLength="76" lengthAdjust="spacingAndGlyphs">01-Feb</text>
<text x="518" y="3223" font-size="14" class="bt" text-anchor="middle" textLength="38" lengthAdjust="spacingAndGlyphs">2020</text>
<text x="518" y="3250" font-size="21" text-anchor="middle" textLength="151" lengthAdjust="spacingAndGlyphs">Total 6.04 Hrs</text>
</g>

<!-- ================= PANEL 8 ================= -->
<g>
<rect x="48.5" y="3663.5" width="913" height="508" fill="none" stroke="#000"/>
<path stroke="#000" stroke-width="1" fill="none" d="M155.3 3682V4125M187.1 3682V4125M219 3682V4125M250.8 3682V4125M282.6 3682V4125M314.5 3682V4125M346.3 3682V4125M378.1 3682V4125M410 3682V4125M441.8 3682V4125M473.6 3682V4125M505.4 3682V4125M537.3 3682V4125M569.1 3682V4125M600.9 3682V4125M632.8 3682V4125M664.6 3682V4125M696.4 3682V4125M728.2 3682V4125M760.1 3682V4125M791.9 3682V4125M823.7 3682V4125M855.6 3682V4125M887.4 3682V4125M919.2 3682V4125M131 4112.7H944M131 4100.4H944M131 4075.8H944M131 4063.5H944M131 4038.9H944M131 4026.6H944M131 4001.9H944M131 3989.6H944M131 3965H944M131 3952.7H944M131 3928.1H944M131 3915.8H944M131 3891.2H944M131 3878.9H944M131 3854.3H944M131 3842H944M131 3817.4H944M131 3805H944M131 3780.4H944M131 3768.1H944M131 3743.5H944M131 3731.2H944M131 3706.6H944M131 3694.3H944"/>
<path stroke="#000" stroke-width="3" fill="none" d="M131 4088.1H944M131 4051.2H944M131 4014.2H944M131 3977.3H944M131 3940.4H944M131 3903.5H944M131 3866.6H944M131 3829.7H944M131 3792.7H944M131 3755.8H944M131 3718.9H944"/>
<rect x="131.5" y="3682.5" width="812" height="443" fill="none" stroke="#000"/>
<rect x="369" y="3670" width="284" height="47" fill="#fff"/>
<g class="tk" text-anchor="end">
<text x="120" y="3686">360</text><text x="120" y="3722.9">330</text><text x="120" y="3759.8">300</text><text x="120" y="3796.7">270</text><text x="120" y="3833.7">240</text><text x="120" y="3870.6">210</text><text x="120" y="3907.5">180</text><text x="120" y="3944.4">150</text><text x="120" y="3981.3">120</text><text x="120" y="4018.2">90</text><text x="120" y="4055.2">60</text><text x="120" y="4092.1">30</text><text x="120" y="4129">0</text>
</g>
<g class="tk" text-anchor="middle">
<text x="155.3" y="4145">0</text><text x="187.1" y="4145">1</text><text x="219" y="4145">2</text><text x="250.8" y="4145">3</text><text x="282.6" y="4145">4</text><text x="314.5" y="4145">5</text><text x="346.3" y="4145">6</text><text x="378.1" y="4145">7</text><text x="410" y="4145">8</text><text x="441.8" y="4145">9</text><text x="473.6" y="4145">10</text><text x="505.4" y="4145">11</text><text x="537.3" y="4145">12</text><text x="569.1" y="4145">13</text><text x="600.9" y="4145">14</text><text x="632.8" y="4145">15</text><text x="664.6" y="4145">16</text><text x="696.4" y="4145">17</text><text x="728.2" y="4145">18</text><text x="760.1" y="4145">19</text><text x="791.9" y="4145">20</text><text x="823.7" y="4145">21</text><text x="855.6" y="4145">22</text><text x="887.4" y="4145">23</text><text x="919.2" y="4145">24</text>
</g>
<text class="ax" x="537" y="4163" text-anchor="middle">Time (GMT)</text>
<text class="ax" transform="translate(86,3903) rotate(-90)" text-anchor="middle" textLength="128" lengthAdjust="spacingAndGlyphs">Direction, degrees true</text>
<text x="509" y="3687" font-size="18" text-anchor="middle" textLength="250" lengthAdjust="spacingAndGlyphs">Wokingham,  01 February 2020</text>
<text x="509" y="3704" font-size="11" text-anchor="middle" textLength="169" lengthAdjust="spacingAndGlyphs">5 minute mean wind direction</text>
<g transform="translate(155.3,4125) scale(5.305,-1.2306)">
<polyline fill="none" stroke="#000" stroke-width="1.5" vector-effect="non-scaling-stroke" marker-start="url(#dm)" marker-mid="url(#dm)" marker-end="url(#dm)" points="0,218 1,222 2,216 3,212 4,220 5,219 6,224 7,226 8,225 9,218 10,214 11,211 12,216 13,213 14,218 15,212 16,219 17,225 18,215 19,212 20,218 21,220 22,222 23,226 24,230 25,224 26,227 27,223 28,229 29,226 30,218 31,216 32,222 33,225 34,220 35,224 36,227 37,233 38,230 39,228 40,235 41,228 42,236 43,238 44,237 45,239 46,235 47,232 48,236 49,238 50,241 51,235 52,234 53,237 54,236 55,239 56,238 57,246 58,240 59,236 60,243 61,250 62,245 63,248 64,240 65,245 66,250 67,258 68,248 69,245 70,252 71,255 72,250 73,256 74,248 75,247 76,243 77,250 78,254 79,252 80,256 81,245 82,253 83,242 84,258 85,264 86,254 87,256 88,250 89,247 90,246 91,260 92,258 93,264 94,252 95,250 96,248 97,245 98,253 99,248 100,244 101,246 102,242 103,248 104,250 105,246 106,254 107,251 108,253 109,246 110,244 111,245 112,250 113,247 114,245 115,240 116,242 117,238 118,231 119,237 120,238 121,235 122,240 123,233 124,245 125,238 126,225 127,210 128,222 129,228 130,225 131,222 132,216 133,214 134,218 135,212 136,214 137,213 138,218 139,212 140,217 141,215 142,212 143,208 144,206"/>
</g>
</g>

<!-- ================= PANEL 9 ================= -->
<g>
<rect x="46.5" y="4203.5" width="911" height="487" fill="none" stroke="#000"/>
<path stroke="#000" stroke-width="1" stroke-dasharray="1 2" fill="none" d="M127.8 4245V4612M160.5 4245V4612M193.1 4245V4612M225.8 4245V4612M258.4 4245V4612M291.1 4245V4612M323.7 4245V4612M356.4 4245V4612M389 4245V4612M421.7 4245V4612M454.3 4245V4612M487 4245V4612M519.6 4245V4612M552.3 4245V4612M584.9 4245V4612M617.6 4245V4612M650.2 4245V4612M682.9 4245V4612M715.5 4245V4612M748.2 4245V4612M780.8 4245V4612M813.5 4245V4612M846.1 4245V4612M878.8 4245V4612M104 4575.3H954M104 4538.6H954M104 4501.9H954M104 4465.2H954M104 4428.5H954M104 4391.8H954M104 4355.1H954M104 4318.4H954M104 4281.7H954"/>
<rect x="104.5" y="4245.5" width="849" height="366" fill="none" stroke="#000"/>
<g font-size="13" text-anchor="end">
<text x="94" y="4250">50</text><text x="94" y="4323.4">40</text><text x="94" y="4396.8">30</text><text x="94" y="4470.2">20</text><text x="94" y="4543.6">10</text><text x="94" y="4617">0</text>
</g>
<g class="tk" text-anchor="middle">
<text x="127.8" y="4632">00:00</text><text x="193.1" y="4632">02:00</text><text x="258.4" y="4632">04:00</text><text x="323.7" y="4632">06:00</text><text x="389" y="4632">08:00</text><text x="454.3" y="4632">10:00</text><text x="519.6" y="4632">12:00</text><text x="584.9" y="4632">14:00</text><text x="650.2" y="4632">16:00</text><text x="715.5" y="4632">18:00</text><text x="780.8" y="4632">20:00</text><text x="846.1" y="4632">22:00</text>
<text x="160.5" y="4646">01:00</text><text x="225.8" y="4646">03:00</text><text x="291.1" y="4646">05:00</text><text x="356.4" y="4646">07:00</text><text x="421.7" y="4646">09:00</text><text x="487" y="4646">11:00</text><text x="552.3" y="4646">13:00</text><text x="617.6" y="4646">15:00</text><text x="682.9" y="4646">17:00</text><text x="748.2" y="4646">19:00</text><text x="813.5" y="4646">21:00</text><text x="878.8" y="4646">23:00</text>
</g>
<text class="ax" x="527" y="4664" text-anchor="middle">Time (GMT)</text>
<text class="ax" transform="translate(65,4428) rotate(-90)" text-anchor="middle" textLength="77" lengthAdjust="spacingAndGlyphs">Speed (knots)</text>
<g clip-path="url(#c9)">
<g transform="translate(127.8,4612) scale(3.265,-7.34)" fill="none">
<polyline id="gust" vector-effect="non-scaling-stroke" stroke="#444" stroke-width="1" points="0,14 1,10 2,13 3,11 4,14 5,10 6,12 7,14 8,11 9,13 10,12 11,15 12,10 13,13 14,11 15,14 16,9 17,12 18,10 19,13 20,11 21,8 22,13 23,9 24,12 25,8 26,16 27,10 28,14 29,11 30,13 31,9 32,15 33,12 34,14 35,11 36,17 37,13 38,20 39,12 40,18 41,13 42,16 43,12 44,19 45,11 46,15 47,12 48,14 49,10 50,14 51,11 52,16 53,12 54,15 55,10 56,14 57,12 58,17 59,11 60,15 61,12 62,17 63,13 64,16 65,12 66,18 67,13 68,16 69,12 70,16 71,13 72,19 73,14 74,17 75,12 76,16 77,13 78,15 79,12 80,15 81,11 82,14 83,10 84,13 85,9 86,14 87,10 88,13 89,11 90,12 91,10 92,14 93,11 94,15 95,12 96,16 97,13 98,18 99,14 100,20 101,15 102,22 103,16 104,24 105,17 106,21 107,16 108,25 109,18 110,22 111,17 112,27 113,18 114,24 115,16 116,28 117,19 118,25 119,17 120,24 121,18 122,29 123,19 124,34 125,20 126,26 127,17 128,30 129,18 130,33 131,19 132,28 133,17 134,25 135,18 136,30 137,16 138,29 139,18 140,31 141,19 142,26 143,17 144,33 145,20 146,27 147,18 148,25 149,19 150,29 151,18 152,36 153,17 154,27 155,20 156,24 157,16 158,26 159,17 160,23 161,16 162,25 163,15 164,22 165,16 166,24 167,15 168,27 169,16 170,23 171,15 172,21 173,16 174,24 175,14 176,20 177,15 178,22 179,14 180,19 181,14 182,21 183,13 184,18 185,12 186,19 187,13 188,17 189,12 190,18 191,12 192,20 193,13 194,17 195,11 196,16 197,12 198,14 199,10 200,13 201,9 202,14 203,10 204,12 205,9 206,13 207,10 208,15 209,11 210,13 211,10 212,12 213,9 214,14 215,11 216,13 217,10 218,12 219,10 220,13 221,10 222,15 223,11 224,12 225,9 226,13 227,10 228,12 229,9 230,12 231,9 232,13 233,10 234,11 235,8 236,14 237,9 238,11 239,9 240,9"/>
<use xlink:href="#gust" href="#gust" transform="translate(-3.5,0)"/>
<polyline vector-effect="non-scaling-stroke" stroke="#000" stroke-width="2" points="0,10 2,9 4,8.5 6,8 8,9 10,9.5 12,9.5 14,9.5 16,8 18,8.5 20,8 22,7.8 24,8 26,7 28,8 30,9 32,8.8 34,9 36,10.5 38,11.5 40,11.5 42,11 44,11.5 46,9 48,9.5 50,9 52,9.5 54,9.5 56,9 58,9.5 60,9 62,9.5 64,10.5 66,10.5 68,11 70,10.5 72,10 74,10.5 76,9.5 78,10 80,9.5 82,8 84,8.5 86,9 88,8 90,8 92,9.5 94,9.5 96,10 98,10.5 100,10.5 102,12 104,13 106,13 108,13.5 110,14 112,16.5 114,15 116,15.5 118,16 120,13.5 122,17 124,15 126,14 128,16.5 130,13.5 132,17.5 134,15 136,14.5 138,12 140,18 142,19 144,15.5 146,15.5 148,15.5 150,15.5 152,17 154,18 156,15.5 158,13 160,13.5 162,14 164,14 166,13 168,14 170,13 172,13.5 174,14 176,12.5 178,10.5 180,12.5 182,13 184,11 186,10.5 188,10 190,9.5 192,9.5 194,10 196,11 198,10.5 200,9 202,7.5 204,7 206,7.5 208,8 210,8 212,8.5 214,9.5 216,9 218,7.5 220,7 222,8 224,7.5 226,8.5 228,7.5 230,7 232,7.5 234,8 236,7.5 238,7 240,7.5"/>
</g>
</g>
<text x="149" y="4228" font-size="18" textLength="250" lengthAdjust="spacingAndGlyphs">Wokingham,  01 February 2020</text>
<text x="581" y="4217" font-size="12" text-anchor="middle" textLength="217" lengthAdjust="spacingAndGlyphs">Wind speed, 10 min mean / max gust</text>
<text x="581" y="4234" font-size="12" text-anchor="middle" textLength="208" lengthAdjust="spacingAndGlyphs">Speeds below 4 kt shown at x10 scale</text>
<rect x="737" y="4210" width="219" height="25" fill="#808080"/>
<rect x="735.5" y="4208.5" width="218" height="24" fill="#fff" stroke="#000"/>
<path d="M767 4222H777" stroke="#000" stroke-width="3"/>
<text x="785" y="4225" font-size="9" textLength="46" lengthAdjust="spacingAndGlyphs">Speed x 1</text>
<path d="M855 4218L858.5 4221.5L855 4225L851.5 4221.5Z" fill="none" stroke="#000" stroke-width="1"/>
<text x="870" y="4225" font-size="9" textLength="51" lengthAdjust="spacingAndGlyphs">Speed / 10</text>
</g>

</svg>
</body></html>
